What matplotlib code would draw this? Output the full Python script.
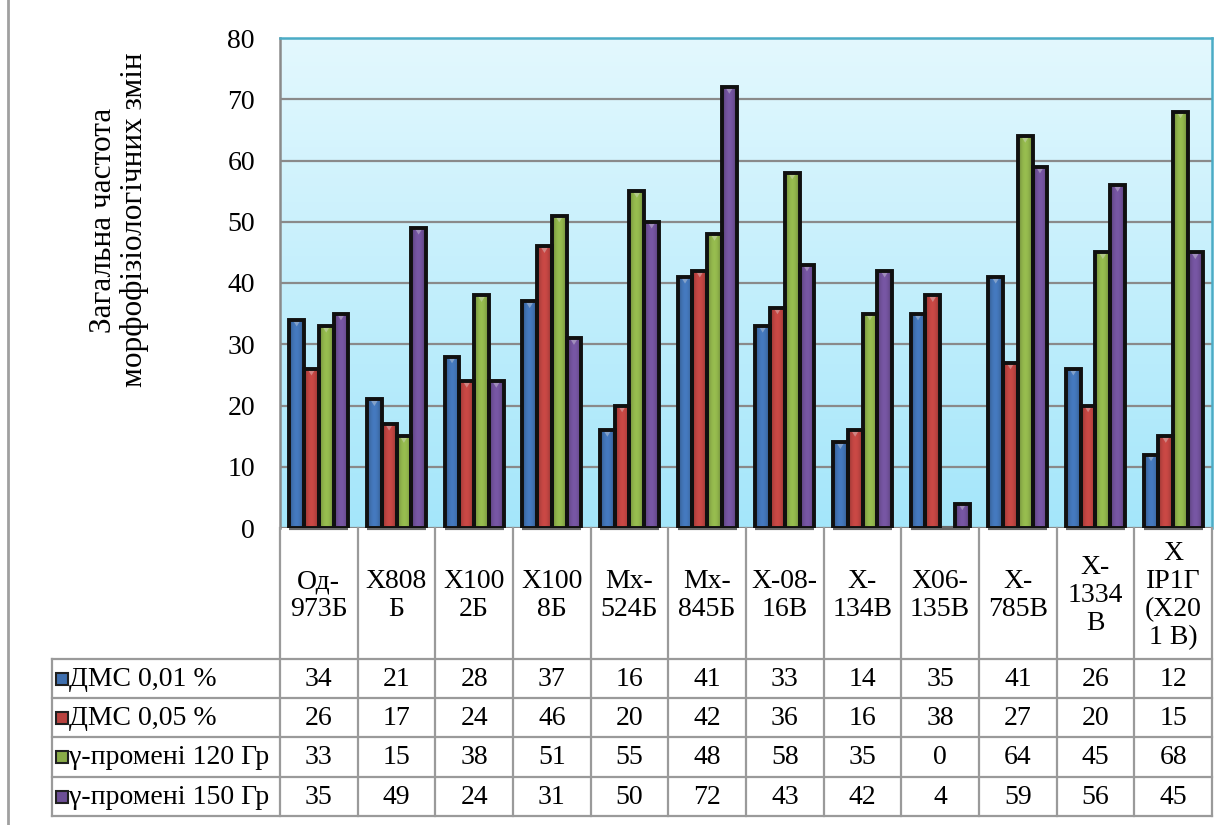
import numpy as np
import matplotlib.pyplot as plt
from matplotlib.colors import to_rgb
from matplotlib.patches import Rectangle, Polygon
from matplotlib.lines import Line2D

# Chart data
categories = ["Од-\n973Б", "Х808\nБ", "Х100\n2Б", "Х100\n8Б", "Мх-\n524Б", "Мх-\n845Б",
              "Х-08-\n16В", "Х-\n134В", "Х06-\n135В", "Х-\n785В", "Х-\n1334\nВ",
              "Х\nІР1Г\n(Х20\n1 В)"]
series_names = ["ДМС 0,01 %", "ДМС 0,05 %", "γ-промені 120 Гр", "γ-промені 150 Гр"]
dms_001 = [34, 21, 28, 37, 16, 41, 33, 14, 35, 41, 26, 12]
dms_005 = [26, 17, 24, 46, 20, 42, 36, 16, 38, 27, 20, 15]
gamma_120 = [33, 15, 38, 51, 55, 48, 58, 35, 0, 64, 45, 68]
gamma_150 = [35, 49, 24, 31, 50, 72, 43, 42, 4, 59, 56, 45]
y_ticks = [0, 10, 20, 30, 40, 50, 60, 70, 80]
y_label = "Загальна частота\nморфофізіологічних змін"

series = [dms_001, dms_005, gamma_120, gamma_150]
colors = ["#3f6fae", "#b8423f", "#8aac48", "#6d4f96"]

plt.rcParams['font.family'] = ['Liberation Serif', 'DejaVu Serif']
FS = 20

W, H = 1231, 825
fig = plt.figure(figsize=(W / 100, H / 100), dpi=100)

# layout in pixels
px_l, px_r, px_t, px_b = 280, 1212, 38, 528
tab_l = 52
row_y = [659, 698, 737, 777, 816]

ax = fig.add_axes([px_l / W, 1 - px_b / H, (px_r - px_l) / W, (px_b - px_t) / H])

n = len(categories)
x = np.arange(n)
bw = 0.19

# background gradient
grad = np.linspace(0, 1, 256)[:, None]
top_c = np.array(to_rgb("#e3f8fe"))
bot_c = np.array(to_rgb("#a4e6fa"))
bg = top_c[None, None, :] * (1 - grad[:, :, None]) + bot_c[None, None, :] * grad[:, :, None]
ax.imshow(bg, extent=[0, 1, 0, 1], transform=ax.transAxes, aspect='auto', zorder=-2)

# shading profile across a bar
t = np.linspace(0, 1, 64)
prof = 0.72 + 0.38 * np.sin(np.pi * t) ** 0.8

for k, (vals, col) in enumerate(zip(series, colors)):
    off = (k - 1.5) * bw
    bars = ax.bar(x + off, vals, bw, facecolor='none', edgecolor='#101010',
                  linewidth=2.8, zorder=6)
    base = np.array(to_rgb(col))
    img = np.clip(base[None, None, :] * prof[None, :, None], 0, 1)
    light = np.clip(base + (1 - base) * 0.35, 0, 1)
    for p, v in zip(bars.patches, vals):
        if v == 0:
            p.set_visible(False)
            continue
        x0, w, h = p.get_x(), p.get_width(), p.get_height()
        ax.imshow(img, extent=[x0, x0 + w, 0, h], aspect='auto', zorder=5,
                  interpolation='bilinear')
        d = min(1.1, h * 0.5)
        ax.add_patch(Polygon([[x0 + 0.22 * w, h], [x0 + 0.78 * w, h], [x0 + 0.5 * w, h - d]],
                             closed=True, facecolor=light, edgecolor='none', zorder=5.5))

# shadow under each group
for xi in x:
    ax.plot([xi - 2 * bw, xi + 2 * bw], [0, 0], color='#6a6a6a', lw=3,
            solid_capstyle='butt', clip_on=False, zorder=4)

ax.set_xlim(-0.5, n - 0.5)
ax.set_ylim(0, 80)
ax.set_yticks(y_ticks)
ax.set_yticklabels([str(v) for v in y_ticks], fontsize=FS)
ax.set_xticks([])
ax.tick_params(axis='y', length=0, pad=18)
ax.set_axisbelow(True)
ax.yaxis.grid(True, color='#8a8a8a', linewidth=1.6, zorder=0.5)
ax.spines['top'].set_color('#4bacc6')
ax.spines['right'].set_color('#4bacc6')
ax.spines['top'].set_linewidth(1.8)
ax.spines['right'].set_linewidth(1.8)
ax.spines['left'].set_color('#8a8a8a')
ax.spines['left'].set_linewidth(1.8)
ax.spines['bottom'].set_visible(False)

fig.text(119 / W, 1 - 220 / H, y_label, rotation=90, ha='center', va='center',
         fontsize=22.5, linespacing=1.1)

# data table in pixel coordinates
tab = fig.add_axes([0, 0, 1, 1])
tab.set_xlim(0, W)
tab.set_ylim(H, 0)
tab.axis('off')
tab.patch.set_alpha(0)

gcol = '#9a9a9a'
cw = (px_r - px_l) / n
for j in range(n + 1):
    xx = px_l + j * cw
    tab.add_line(Line2D([xx, xx], [px_b, row_y[-1]], color=gcol, lw=1.6))
for yy in row_y:
    tab.add_line(Line2D([tab_l, px_r], [yy, yy], color=gcol, lw=1.6))
tab.add_line(Line2D([tab_l, tab_l], [row_y[0], row_y[-1]], color=gcol, lw=1.6))

for j, cat in enumerate(categories):
    tab.text(px_l + (j + 0.5) * cw, (px_b + row_y[0]) / 2 + 2, cat, ha='center',
             va='center', fontsize=FS, linespacing=1.15)

for k, (name, vals, col) in enumerate(zip(series_names, series, colors)):
    yc = (row_y[k] + row_y[k + 1]) / 2
    tab.add_patch(Rectangle((56, yc - 6), 12, 12, facecolor=col, edgecolor='#202020',
                            lw=1.5))
    tab.text(69, yc + 1, name, ha='left', va='center', fontsize=FS)
    for j, v in enumerate(vals):
        tab.text(px_l + (j + 0.5) * cw, yc + 1, str(v), ha='center', va='center',
                 fontsize=FS)

# page border line on the left
tab.add_line(Line2D([8, 8], [0, H], color='#a0a0a0', lw=2))

plt.savefig('out.png', dpi=100)
